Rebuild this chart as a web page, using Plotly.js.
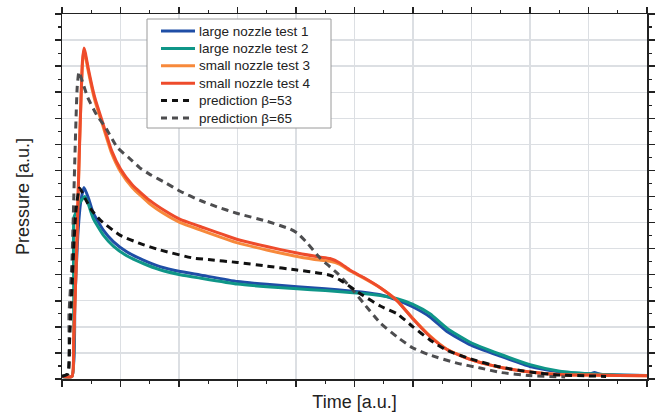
<!DOCTYPE html>
<html><head><meta charset="utf-8">
<script src="https://cdn.plot.ly/plotly-3.0.1.min.js"></script>
<style>html,body{margin:0;padding:0;background:#fff}#chart{width:655px;height:414px}</style>
</head><body><div id="chart"></div>
<script>
// ---- data ----
const seriesNames = ["large nozzle test 1","large nozzle test 2","small nozzle test 3","small nozzle test 4","prediction β=53","prediction β=65"];

const t1x = [0,0.17,0.22,0.27,0.32,0.376,0.45,0.535,0.706,0.877,1.106,1.39,1.675,2.02,2.36,3.0,3.5,4.02,4.5,4.92,5.15,5.44,5.73,6.0,6.29,6.58,6.97,7.49,8.0,8.51,9.03,9.1,9.2,9.5,10];
const t1y = [0.1,0.1,3.0,5.5,6.8,7.35,6.95,6.36,5.71,5.27,4.88,4.56,4.31,4.12,3.99,3.74,3.63,3.54,3.46,3.38,3.33,3.23,3.03,2.76,2.38,1.82,1.32,0.88,0.48,0.27,0.2,0.25,0.18,0.15,0.13];

const t2x = [0,0.17,0.2,0.205,0.25,0.3,0.39,0.45,0.535,0.706,0.877,1.106,1.39,1.675,2.02,2.36,3.0,3.5,4.02,4.5,4.92,5.15,5.44,5.73,6.0,6.29,6.58,6.97,7.49,8.0,8.51,9.03,9.5,10];
const t2y = [0.1,0.1,2.7,6.2,6.45,6.75,7.0,6.7,6.15,5.52,5.1,4.73,4.43,4.19,4.0,3.87,3.64,3.54,3.46,3.39,3.32,3.28,3.2,3.08,2.86,2.5,1.95,1.42,0.95,0.55,0.3,0.2,0.15,0.13];

const t3x = [0,0.17,0.2,0.25,0.3,0.35,0.376,0.4,0.45,0.56,0.7,0.85,1.0,1.2,1.5,1.76,2.02,2.36,3.0,3.5,4.02,4.4,4.58,4.75,4.92,5.15,5.44,5.73,6.0,6.29,6.58,6.97,7.45,8.0,8.55,9.03,9.5,10];
const t3y = [0.1,0.1,1.5,5.0,9.0,12.1,12.6,12.4,11.8,10.7,9.7,8.65,7.95,7.35,6.72,6.32,6.0,5.72,5.22,4.95,4.7,4.56,4.52,4.4,4.15,3.88,3.5,3.0,2.32,1.65,1.14,0.76,0.47,0.27,0.16,0.15,0.13,0.12];

const t4x = [0,0.17,0.2,0.25,0.3,0.35,0.376,0.4,0.45,0.56,0.7,0.85,1.0,1.2,1.5,1.76,2.02,2.36,3.0,3.5,4.02,4.4,4.58,4.75,4.92,5.15,5.44,5.73,6.0,6.29,6.58,6.97,7.45,8.0,8.55,9.03,9.5,10];
const t4y = [0.1,0.1,1.5,5.0,9.0,12.2,12.7,12.5,11.9,10.8,9.8,8.75,8.05,7.45,6.85,6.45,6.12,5.85,5.35,5.08,4.83,4.68,4.62,4.45,4.18,3.9,3.5,3.0,2.3,1.63,1.13,0.75,0.47,0.27,0.16,0.15,0.13,0.12];

const p53x = [0,0.1,0.13,0.17,0.2,0.24,0.3,0.4,0.5,0.65,0.99,1.33,1.675,2.24,2.5,3.0,3.5,4.02,4.4,4.58,4.75,5.15,5.44,5.73,6.0,6.29,6.58,6.97,7.49,8.0,8.51,9.0,9.3];
const p53y = [0.1,0.2,1.5,3.5,5.0,6.5,7.33,6.9,6.5,6.1,5.52,5.2,4.95,4.64,4.58,4.47,4.33,4.18,4.06,3.98,3.8,3.2,2.8,2.5,2.0,1.5,1.1,0.78,0.46,0.27,0.15,0.12,0.1];

const p65x = [0,0.1,0.12,0.17,0.22,0.26,0.29,0.35,0.44,0.6,0.74,0.94,1.21,1.33,1.5,1.79,2.02,2.36,2.65,3.0,3.5,3.9,4.02,4.19,4.41,4.7,4.92,5.15,5.44,5.73,6.0,6.29,6.75,7.15,7.5,8.0,8.6];
const p65y = [0.1,0.2,2.5,4.5,8.5,11.2,11.78,11.4,10.8,10.1,9.67,8.9,8.35,8.1,7.85,7.5,7.2,6.85,6.6,6.35,6.05,5.75,5.6,5.22,4.64,4.07,3.55,2.92,2.15,1.61,1.19,0.92,0.61,0.42,0.25,0.13,0.08];

// ---- chart ----
const colors = ["#1f4ea6","#0f9688","#f7893b","#ee4b2b","#111111","#4d4d4f"];
const dashes = [null,null,null,null,"7px,5px","7px,5px"];
function tr(x,y,i){
  const ln = {color:colors[i],width:3,shape:"spline",smoothing:0.5};
  if(dashes[i]) ln.dash = dashes[i];
  return {x:x,y:y,name:seriesNames[i],type:"scatter",mode:"lines",line:ln,showlegend:false};
}
const traces = [tr(t1x,t1y,0), tr(t2x,t2y,1), tr(t3x,t3y,2), tr(t4x,t4y,3), tr(p65x,p65y,5), tr(p53x,p53y,4)];

// legend drawn as shapes + annotations (paper coords from pixel layout)
const L=62, R=647, T=14, B=379;
const px = v => (v-L)/(R-L), py = v => (B-v)/(B-T);
const shapes = [{type:"rect", xref:"paper", yref:"paper", x0:px(147), x1:px(331), y0:py(128), y1:py(19),
                 line:{color:"#9a9a9a", width:1}, fillcolor:"#ffffff", layer:"above"}];
const annotations = [];
seriesNames.forEach((n,i)=>{
  const yc = 31 + 17.4*i;
  const ln = {color:colors[i], width:3};
  if(dashes[i]) ln.dash = "6px,5px";
  shapes.push({type:"line", xref:"paper", yref:"paper", x0:px(161), x1:px(dashes[i]?193:195), y0:py(yc), y1:py(yc), line:ln, layer:"above"});
  annotations.push({xref:"paper", yref:"paper", x:px(197), y:py(yc), xanchor:"left", yanchor:"middle",
                    text:n, showarrow:false, font:{size:13.5, color:"#222"}});
});

const axisCommon = {
  showline:true, linecolor:"#222", linewidth:1.5, mirror:"ticks",
  ticks:"outside", ticklen:6, tickwidth:1.5, tickcolor:"#222",
  showticklabels:false, showgrid:true, gridcolor:"#dcdfe3", gridwidth:1.3,
  zeroline:false, fixedrange:true, tickmode:"linear", tick0:0, dtick:1,
  minor:{ticks:"outside", ticklen:3, tickwidth:1.2, tickcolor:"#222", dtick:0.5, tick0:0, showgrid:false}
};

const layout = {
  width:655, height:414,
  margin:{l:L, r:655-R, t:T, b:414-B},
  paper_bgcolor:"#fff", plot_bgcolor:"#fff",
  font:{family:"Liberation Sans, Arial, sans-serif", color:"#222"},
  showlegend:false,
  shapes:shapes, annotations:annotations,
  xaxis:Object.assign({}, axisCommon, {range:[0,10],
          title:{text:"Time [a.u.]", font:{size:18, color:"#222"}, standoff:10}}),
  yaxis:Object.assign({}, axisCommon, {range:[0,14],
          title:{text:"Pressure [a.u.]", font:{size:18, color:"#222"}, standoff:20}})
};

Plotly.newPlot("chart", traces, layout, {displayModeBar:false, staticPlot:true});
</script></body></html>
